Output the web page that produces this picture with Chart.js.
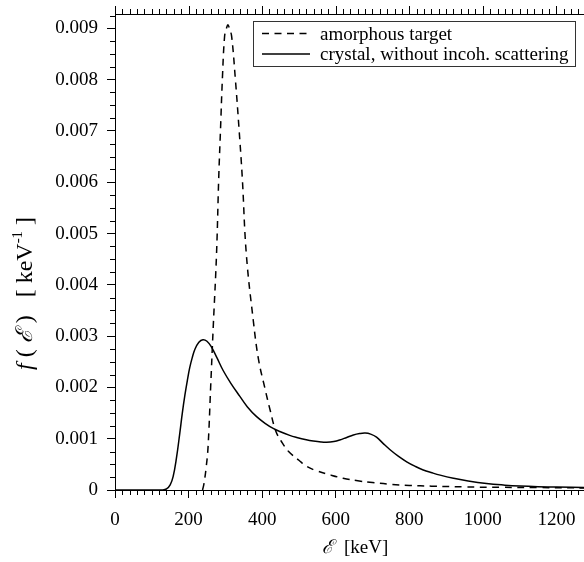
<!DOCTYPE html>
<html>
<head>
<meta charset="utf-8">
<script src="https://cdn.jsdelivr.net/npm/chart.js@4.4.0/dist/chart.umd.min.js"></script>
<style>
  html, body { margin:0; padding:0; background:#fff; overflow:hidden; }
  #wrap { width:584px; height:562px; }
</style>
</head>
<body>
<div id="wrap"><canvas id="chart" width="584" height="562"></canvas></div>
<script>
// valeurs (f en 1e-3 keV^-1)
const seriesLabels = ['amorphous target', 'crystal, without incoh. scattering'];

const eAmorph = [238, 242, 248, 253, 260, 267, 276, 282, 287, 292, 298, 303, 307, 311, 317, 327, 337, 346, 357, 376, 390, 407, 422, 437, 452, 472, 500, 521, 550, 587, 620, 660, 700, 750, 800, 860, 950, 1050, 1150, 1280];
const fAmorph = [0, 0.13, 0.45, 0.84, 2.0, 3.17, 4.6, 6.09, 7.06, 8.03, 8.85, 9.0, 9.07, 9.0, 8.85, 8.03, 7.06, 6.09, 4.6, 3.3, 2.55, 2.0, 1.55, 1.15, 0.95, 0.75, 0.58, 0.46, 0.37, 0.29, 0.23, 0.18, 0.145, 0.11, 0.09, 0.075, 0.06, 0.052, 0.047, 0.04];

const eCrystal = [0, 100, 130, 140, 150, 158, 167, 176, 183, 190, 197, 203, 210, 217, 228, 239, 250, 262, 277, 294, 315, 339, 360, 385, 410, 430, 448, 475, 494, 520, 539, 560, 575, 595, 611, 630, 648, 665, 680, 695, 711, 730, 747, 770, 793, 815, 838, 862, 884, 920, 960, 1010, 1060, 1101, 1150, 1200, 1280];
const fCrystal = [0, 0, 0, 0.02, 0.1, 0.26, 0.62, 1.1, 1.5, 1.85, 2.15, 2.38, 2.58, 2.74, 2.88, 2.93, 2.9, 2.79, 2.58, 2.33, 2.08, 1.83, 1.62, 1.43, 1.29, 1.2, 1.14, 1.065, 1.025, 0.98, 0.955, 0.935, 0.93, 0.945, 0.975, 1.025, 1.072, 1.1, 1.11, 1.09, 1.03, 0.9, 0.79, 0.66, 0.55, 0.465, 0.39, 0.335, 0.29, 0.23, 0.175, 0.125, 0.095, 0.078, 0.065, 0.057, 0.048];

const xMax = 1275, yMax = 0.00928;
const xStep = 200, xMinor = 20, yStep = 0.001, yMinorPerMajor = 4;

const serif = '"Liberation Serif", "Times New Roman", serif';
const pts = (xs, ys) => xs.map((x, i) => ({ x, y: ys[i] * 1e-3 }));

// ticks mineurs, cadre du haut, titres d'axes et légende
const extras = {
  id: 'extras',
  afterDraw(chart) {
    const { ctx, chartArea: a, scales: { x, y } } = chart;
    ctx.save();
    ctx.strokeStyle = '#000'; ctx.lineWidth = 1;
    ctx.beginPath();
    ctx.moveTo(a.left, a.top + .5); ctx.lineTo(a.right, a.top + .5);
    for (let i = 0; i * xMinor <= xMax; i++) {
      const px = Math.round(x.getPixelForValue(i * xMinor)) + .5;
      const major = (i * xMinor) % xStep === 0;
      ctx.moveTo(px, a.top); ctx.lineTo(px, a.top - (major ? 8 : 5));
      if (!major) { ctx.moveTo(px, a.bottom); ctx.lineTo(px, a.bottom + 5); }
    }
    for (let i = 1; i * yStep / yMinorPerMajor <= yMax; i++) {
      if (i % yMinorPerMajor === 0) continue;
      const py = Math.round(y.getPixelForValue(i * yStep / yMinorPerMajor)) + .5;
      ctx.moveTo(a.left, py); ctx.lineTo(a.left - 5, py);
    }
    ctx.stroke();

    // titre axe x
    ctx.fillStyle = '#000';
    ctx.textBaseline = 'alphabetic'; ctx.textAlign = 'left';
    ctx.font = 'italic 19px ' + serif;
    ctx.fillText('ℰ', 322, 553);
    ctx.font = '19px ' + serif;
    ctx.fillText('[keV]', 344, 553);

    // titre axe y (tourné)
    ctx.save();
    ctx.translate(32, 370);
    ctx.rotate(-Math.PI / 2);
    const segs = [
      ['f', 'italic 24px ', 0], [' ( ', '24px ', 0], ['ℰ', 'italic 23px ', 0], [' )   [ keV', '24px ', 0],
      ['-1', '15px ', -10], [' ]', '24px ', 0]
    ];
    let cx = 0;
    segs.forEach(([t, f, dy]) => { ctx.font = f + serif; ctx.fillText(t, cx, dy); cx += ctx.measureText(t).width; });
    ctx.restore();

    // légende
    const lx = 253.5, ly = 21.5, lw = 322, lh = 45;
    ctx.fillStyle = '#fff'; ctx.fillRect(lx, ly, lw, lh);
    ctx.strokeStyle = '#333'; ctx.strokeRect(lx, ly, lw, lh);
    ctx.font = '19px ' + serif; ctx.fillStyle = '#000';
    chart.data.datasets.forEach((ds, i) => {
      const yy = 33.5 + i * 20.5;
      ctx.beginPath();
      ctx.strokeStyle = ds.borderColor; ctx.lineWidth = ds.borderWidth;
      ctx.setLineDash(ds.borderDash || []);
      ctx.moveTo(262, yy); ctx.lineTo(310, yy); ctx.stroke();
      ctx.setLineDash([]);
      ctx.fillText(ds.label, 320, 40 + i * 20);
    });
    ctx.restore();
  }
};

new Chart(document.getElementById('chart'), {
  type: 'line',
  data: {
    datasets: [
      { label: seriesLabels[0], data: pts(eAmorph, fAmorph), borderColor: '#000', borderWidth: 1.5, borderDash: [7, 5.5], pointRadius: 0, tension: 0.4, fill: false },
      { label: seriesLabels[1], data: pts(eCrystal, fCrystal), borderColor: '#000', borderWidth: 1.5, pointRadius: 0, tension: 0.4, fill: false }
    ]
  },
  options: {
    responsive: false, animation: false, devicePixelRatio: 1,
    layout: { padding: { top: 14, right: 0, left: 0, bottom: 0 } },
    plugins: { legend: { display: false }, tooltip: { enabled: false } },
    scales: {
      x: {
        type: 'linear', min: 0, max: xMax,
        afterFit: s => { s.height = 72; s.paddingLeft = 0; s.paddingRight = 0; },
        ticks: { stepSize: xStep, includeBounds: false, autoSkip: false, maxRotation: 0, padding: 11, color: '#000', font: { family: serif, size: 19 },
          callback: v => String(v) },
        grid: { drawOnChartArea: false, tickLength: 8, color: '#000' },
        border: { color: '#000' }
      },
      y: {
        type: 'linear', min: 0, max: yMax,
        afterFit: s => { s.width = 115; s.paddingTop = 0; s.paddingBottom = 0; },
        ticks: { stepSize: yStep, includeBounds: false, padding: 9, color: '#000', font: { family: serif, size: 19 },
          callback: v => v === 0 ? '0' : v.toFixed(3) },
        grid: { drawOnChartArea: false, tickLength: 8, color: '#000' },
        border: { color: '#000' }
      }
    }
  },
  plugins: [extras]
});
</script>
</body>
</html>
